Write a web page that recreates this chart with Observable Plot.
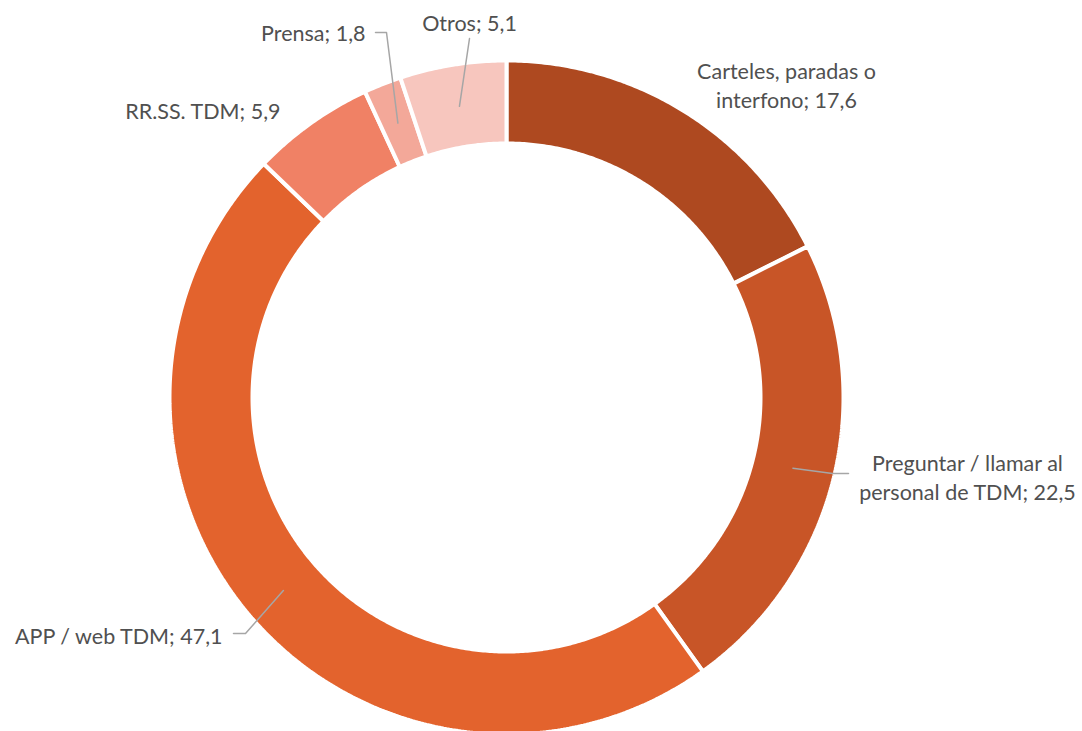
<!DOCTYPE html>
<html>
<head>
<meta charset="utf-8">
<script src="https://cdn.jsdelivr.net/npm/d3@7"></script>
<script src="https://cdn.jsdelivr.net/npm/@observablehq/plot@0.6"></script>
<style>
  html, body { margin: 0; padding: 0; background: #fff; }
  #chart svg { display: block; }
</style>
</head>
<body>
<div id="chart"></div>
<script>
// ---- Data ----
const categories = [
  "Carteles, paradas o interfono",
  "Preguntar / llamar al personal de TDM",
  "APP / web TDM",
  "RR.SS. TDM",
  "Prensa",
  "Otros"
];
const values = [17.6, 22.5, 47.1, 5.9, 1.8, 5.1];
const labelTexts = [
  "Carteles, paradas o\ninterfono; 17,6",
  "Preguntar / llamar al\npersonal de TDM; 22,5",
  "APP / web TDM; 47,1",
  "RR.SS. TDM; 5,9",
  "Prensa; 1,8",
  "Otros; 5,1"
];
const colors = ["#ae4920", "#c85527", "#e3632d", "#f08165", "#f3a899", "#f7c6be"];

// ---- Layout (pixel space) ----
const W = 1082, H = 731;
const cx = 506, cy = 397, rOuter = 337, rInner = 254, rLeader = 295;
const layout = {
  "Carteles, paradas o interfono": {x: 786, y: 84, anchor: "middle", leader: false},
  "Preguntar / llamar al personal de TDM": {x: 967, y: 476, anchor: "middle", leader: [[832, 473], [848, 473]]},
  "APP / web TDM": {x: 222, y: 634, anchor: "end", leader: [[245, 633], [233, 633]]},
  "RR.SS. TDM": {x: 280, y: 109, anchor: "end", leader: false},
  "Prensa": {x: 365, y: 31, anchor: "end", leader: [[386, 32], [375, 32]]},
  "Otros": {x: 469, y: 21, anchor: "middle", leader: [[469, 38]]}
};

const total = d3.sum(values);
const pt = (frac, r) => {
  const a = frac * 2 * Math.PI;
  return [cx + r * Math.sin(a), cy - r * Math.cos(a)];
};

// Ring segment outlines
const ringPts = [];
const leaderPts = [];
const labels = [];
let cum = 0;
categories.forEach((c, i) => {
  const f0 = cum / total, f1 = (cum + values[i]) / total;
  const n = Math.max(2, Math.ceil((f1 - f0) * 720));
  const poly = [];
  for (let k = 0; k <= n; k++) poly.push(pt(f0 + (f1 - f0) * k / n, rOuter));
  for (let k = n; k >= 0; k--) poly.push(pt(f0 + (f1 - f0) * k / n, rInner));
  poly.push(poly[0]);
  poly.forEach(([x, y]) => ringPts.push({cat: c, x, y}));
  const L = layout[c];
  if (L.leader) {
    const s = pt((f0 + f1) / 2, rLeader);
    [s, ...L.leader].forEach(([x, y]) => leaderPts.push({cat: c, x, y}));
  }
  labels.push({cat: c, text: labelTexts[i], x: L.x, y: L.y, anchor: L.anchor});
  cum += values[i];
});

const font = "Lato, 'Open Sans', sans-serif";
const fs = 21.5;

const chart = Plot.plot({
  width: W,
  height: H,
  margin: 0,
  style: {background: "#fff", fontFamily: font},
  x: {domain: [0, W], range: [0, W], axis: null},
  y: {domain: [0, H], range: [0, H], axis: null},
  color: {type: "ordinal", domain: categories, range: colors},
  marks: [
    Plot.line(ringPts, {x: "x", y: "y", z: "cat", fill: "cat", stroke: "white", strokeWidth: 4, strokeLinejoin: "miter", curve: "linear"}),
    Plot.line(leaderPts, {x: "x", y: "y", z: "cat", stroke: "#a6a6a6", strokeWidth: 1.5, curve: "linear"}),
    ...["start", "middle", "end"].map(a =>
      Plot.text(labels.filter(d => d.anchor === a), {
        x: "x", y: "y", text: "text", textAnchor: a, lineAnchor: "middle",
        fill: "#505050", fontSize: fs, lineHeight: 29 / fs, fontFamily: font
      })
    )
  ]
});
document.getElementById("chart").appendChild(chart);
</script>
</body>
</html>
